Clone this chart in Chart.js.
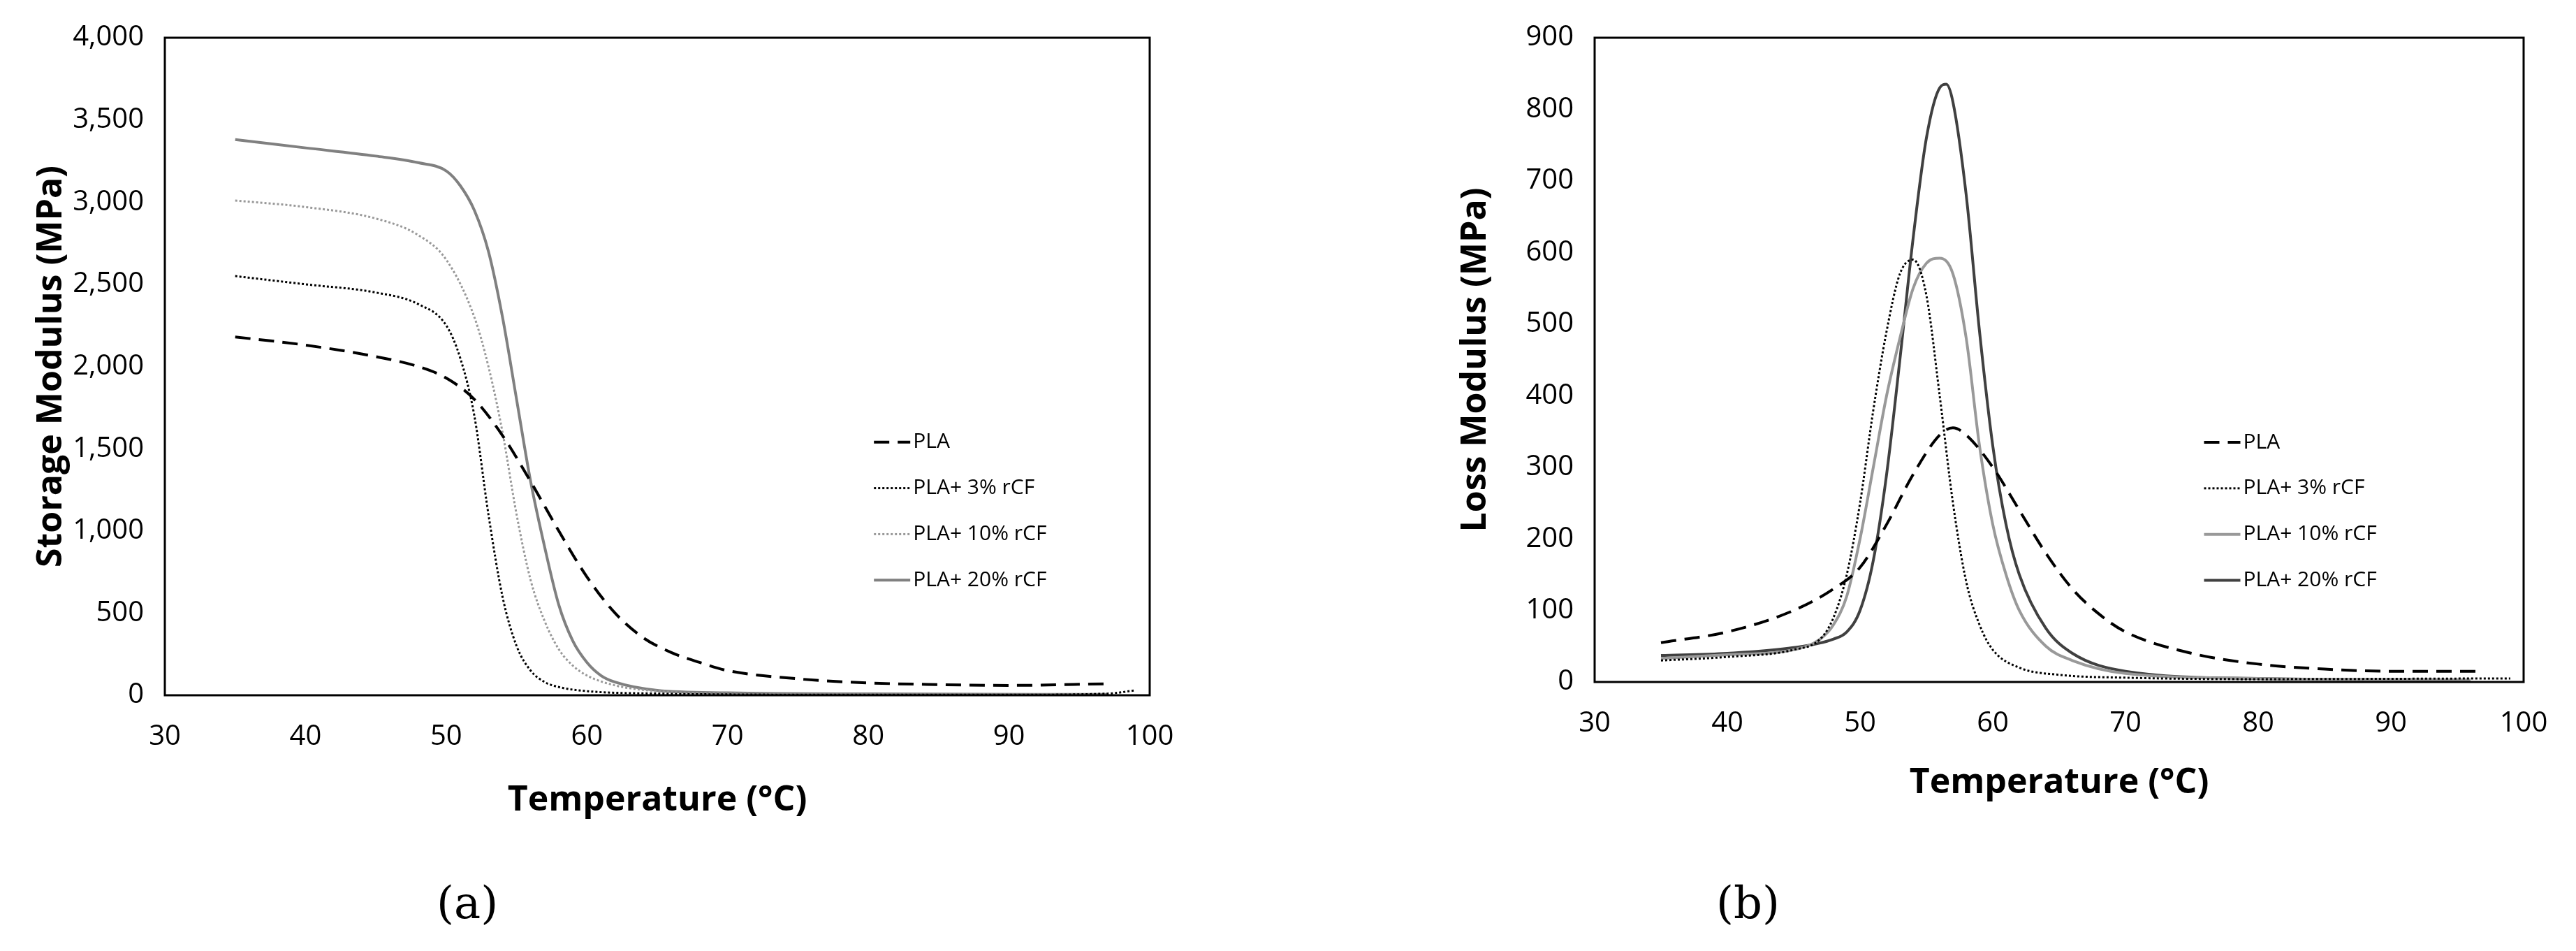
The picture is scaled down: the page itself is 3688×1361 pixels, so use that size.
<!DOCTYPE html>
<html>
<head>
<meta charset="utf-8">
<script src="https://cdn.jsdelivr.net/npm/chart.js@4.4.0/dist/chart.umd.min.js"></script>
<style>
  body { margin:0; background:#fff; width:3688px; height:1361px; position:relative; overflow:hidden; }
  .box { position:absolute; top:0; width:1844px; height:1361px; }
  .box canvas { width:1844px; height:1361px; }
  .cap { position:absolute; top:1255px; font-family:"DejaVu Serif","Liberation Serif",serif; font-size:64px; color:#000; }
</style>
</head>
<body>
<div class="box" style="left:0"><canvas id="graficoA" width="1844" height="1361"></canvas></div>
<div class="box" style="left:1844px"><canvas id="graficoB" width="1844" height="1361"></canvas></div>
<div class="cap" style="left:625px">(a)</div>
<div class="cap" style="left:2457px">(b)</div>
<script>
let legendas = ["PLA", "PLA+ 3% rCF", "PLA+ 10% rCF", "PLA+ 20% rCF"];

// (a) storage modulus
let tA_pla = [35,40,45,48,50,52,54,56,58,60,62,64,66,68,70,75,80,85,90,97];
let eA_pla = [2180,2130,2060,2000,1930,1800,1580,1300,1000,720,500,350,260,200,150,100,75,65,60,70];
let tA_3 = [35,40,45,48,50,51,52,53,54,55,56,57,58,60,65,70,80,90,97,99];
let eA_3 = [2550,2500,2450,2380,2250,2050,1700,1100,600,300,150,80,50,25,10,5,3,3,10,30];
let tA_10 = [35,40,45,48,50,52,53,54,55,56,57,58,59,60,62,65,70,80,97];
let eA_10 = [3010,2970,2900,2800,2650,2300,2000,1600,1100,700,450,280,180,120,60,25,10,5,5];
let tA_20 = [35,40,45,48,50,51,52,53,54,55,56,57,58,59,60,61,62,65,70,80,97];
let eA_20 = [3380,3330,3280,3240,3190,3100,2950,2700,2300,1800,1300,900,550,330,200,120,80,30,15,8,5];

// (b) loss modulus
let tB_pla = [35,40,45,48,50,52,54,56,57,58,60,62,64,66,68,70,75,80,85,90,97];
let eB_pla = [55,70,100,130,160,220,290,345,355,345,300,240,180,130,95,70,40,25,18,15,15];
let tB_3 = [35,40,45,47,48,49,50,51,52,53,54,55,56,57,58,59,60,62,65,70,80,99];
let eB_3 = [30,35,45,60,90,150,250,380,490,570,590,540,400,250,140,80,45,20,10,6,4,5];
let tB_10 = [35,40,45,47,48,49,50,51,52,53,54,55,56,57,58,59,60,61,62,64,66,70,80,96];
let eB_10 = [33,38,45,60,80,120,200,300,400,480,550,585,592,570,480,330,220,150,100,50,30,12,5,3];
let tB_20 = [35,40,45,48,49,50,51,52,53,54,55,56,56.5,57,58,59,60,61,62,64,66,70,80,96];
let eB_20 = [37,40,48,60,70,100,170,290,450,620,760,830,835,810,680,490,330,220,150,75,40,15,5,3];

let fonte = "'Open Sans', 'Liberation Sans', sans-serif";

function pontos(xs, ys){ return xs.map((x,i)=>({x:x, y:ys[i]})); }

function serie(label, xs, ys, cor, dash, largura){
    return {
        label: label,
        data: pontos(xs, ys),
        borderColor: cor,
        borderWidth: largura,
        borderDash: dash,
        pointRadius: 0,
        fill: false,
        cubicInterpolationMode: 'monotone'
    };
}

// frame + legend drawn inside plot area
function pluginMoldura(legX, legY, passo){
    return {
        id: 'moldura',
        afterDraw(chart){
            let c = chart.ctx, a = chart.chartArea;
            c.save();
            c.strokeStyle = '#000'; c.lineWidth = 3;
            c.strokeRect(a.left, a.top, a.right-a.left, a.bottom-a.top);
            let x0 = a.left + legX*(a.right-a.left);
            chart.data.datasets.forEach((ds, i)=>{
                let y = a.top + (legY + i*passo)*(a.bottom-a.top);
                c.strokeStyle = ds.borderColor;
                c.lineWidth = ds.borderWidth;
                c.setLineDash(ds.borderDash || []);
                c.beginPath(); c.moveTo(x0, y); c.lineTo(x0+52, y); c.stroke();
                c.setLineDash([]);
                c.fillStyle = '#000';
                c.font = "30px " + fonte;
                c.textBaseline = 'middle';
                c.fillText(ds.label, x0+56, y);
            });
            c.restore();
        }
    };
}

function eixos(ymax, passoY, tituloY, largY, altX){
    return {
        x: {
            type:'linear', min:30, max:100,
            ticks:{ stepSize:10, color:'#000', font:{size:40, family:fonte}, padding:36 },
            grid:{ display:false, drawTicks:false },
            border:{ display:false },
            title:{ display:true, text:'Temperature (°C)', color:'#000', font:{size:50, weight:'bold', family:fonte} },
            afterFit(s){ s.height = altX; }
        },
        y: {
            min:0, max:ymax,
            ticks:{ stepSize:passoY, color:'#000', font:{size:40, family:fonte}, padding:30 },
            grid:{ display:false, drawTicks:false },
            border:{ display:false },
            title:{ display:true, text:tituloY, color:'#000', font:{size:50, weight:'bold', family:fonte} },
            afterFit(s){ s.width = largY; }
        }
    };
}

let graficoA = new Chart(document.getElementById('graficoA').getContext('2d'), {
    type:'line',
    data:{ datasets:[
        serie(legendas[0], tA_pla, eA_pla, '#000000', [22,12], 4),
        serie(legendas[1], tA_3, eA_3, '#000000', [3,3], 3),
        serie(legendas[2], tA_10, eA_10, '#999999', [3,3], 3),
        serie(legendas[3], tA_20, eA_20, '#808080', [], 4)
    ]},
    options:{
        responsive:false, animation:false, devicePixelRatio:1,
        layout:{ padding:{ left:40, right:198, top:52, bottom:181 } },
        plugins:{ legend:{display:false}, tooltip:{enabled:false} },
        scales: eixos(4000, 500, 'Storage Modulus (MPa)', 196, 185)
    },
    plugins:[ pluginMoldura(0.72, 0.615, 0.07) ]
});

let graficoB = new Chart(document.getElementById('graficoB').getContext('2d'), {
    type:'line',
    data:{ datasets:[
        serie(legendas[0], tB_pla, eB_pla, '#000000', [22,12], 4),
        serie(legendas[1], tB_3, eB_3, '#000000', [3,3], 3),
        serie(legendas[2], tB_10, eB_10, '#999999', [], 4),
        serie(legendas[3], tB_20, eB_20, '#404040', [], 4)
    ]},
    options:{
        responsive:false, animation:false, devicePixelRatio:1,
        layout:{ padding:{ left:235, right:75, top:52, bottom:206 } },
        plugins:{ legend:{display:false}, tooltip:{enabled:false} },
        scales: eixos(900, 100, 'Loss Modulus (MPa)', 204, 179)
    },
    plugins:[ pluginMoldura(0.656, 0.628, 0.0714) ]
});
</script>
</body>
</html>
